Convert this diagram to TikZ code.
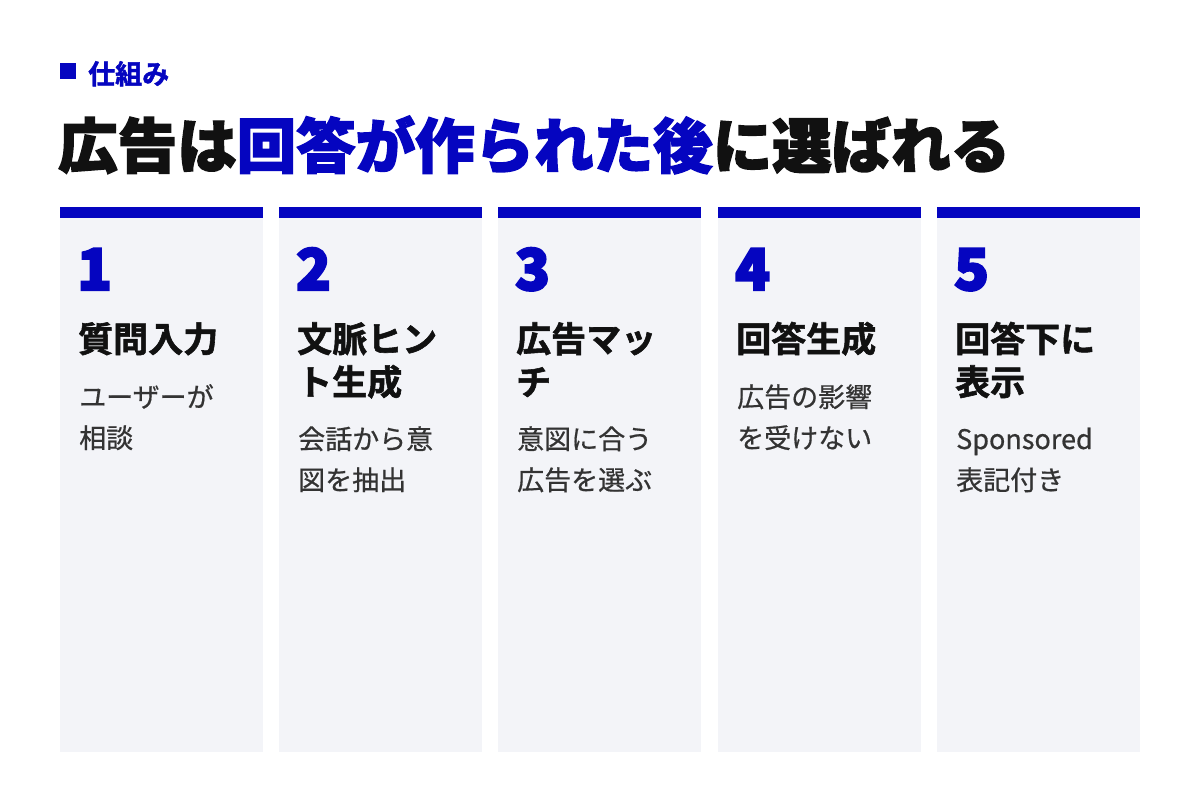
\documentclass[tikz,border=0pt]{standalone}
\usepackage{fontspec}
\newfontfamily\jp{Noto Sans CJK JP}[BoldFont=Noto Sans CJK JP Bold]
\newfontfamily\jpmed{Noto Sans CJK JP}[FakeBold=0.6]
\newfontfamily\jpheavy{Noto Sans CJK JP Bold}[FakeBold=1.6]
\newfontfamily\jpblack{Noto Sans CJK JP Black}[FakeBold=2.5]
\newfontfamily\jpnum{Noto Sans CJK JP Black}[FakeBold=4]
\definecolor{brand}{HTML}{0505C0}
\definecolor{cardbg}{HTML}{F3F4F8}
\definecolor{ink}{HTML}{111111}
\definecolor{body}{HTML}{333333}
\tikzset{
  card/.style={fill=cardbg},
  cardbar/.style={fill=brand},
  num/.style={anchor=base west, inner sep=0pt, text=brand, font=\jpnum\fontsize{57}{57}\selectfont},
  steptitle/.style={anchor=base west, inner sep=0pt, text=ink, align=left, font=\jpheavy\fontsize{35}{43}\selectfont},
  stepdesc/.style={anchor=base west, inner sep=0pt, text=body, align=left, font=\jpmed\fontsize{27}{41}\selectfont},
}
\begin{document}
\begin{tikzpicture}[x=1pt,y=-1pt]
\useasboundingbox[fill=white] (0,0) rectangle (1200,800);
% header
\fill[brand] (60,63) rectangle (76,79);
\node[anchor=base west, inner sep=0pt, text=brand, font=\jpheavy\fontsize{27}{27}\selectfont] (kicker) at (88,84) {仕組み};
\node[anchor=base west, inner sep=0pt, text=ink, font=\jpblack\fontsize{59.5}{59.5}\selectfont] (title) at (58,168)
  {広告は\textcolor{brand}{回答が作られた後}に選ばれる};
% cards
\foreach \i/\x in {1/60,2/279,3/498,4/718,5/937}{
  \fill[card] (\x,218) rectangle ++(203,534);
  \fill[cardbar] (\x,207) rectangle ++(203,11);
  \node[num] (n\i) at (\x+17,290) {\i};
}
% anchor base = baseline of the last line
\node[steptitle] (t1) at (78,352) {質問入力};
\node[stepdesc] (d1) at (79,448) {ユーザーが\\相談};
\node[steptitle] (t2) at (297,395) {文脈ヒン\\ト生成};
\node[stepdesc] (d2) at (298,490) {会話から意\\図を抽出};
\node[steptitle] (t3) at (516,395) {広告マッ\\チ};
\node[stepdesc] (d3) at (517,490) {意図に合う\\広告を選ぶ};
\node[steptitle] (t4) at (736,352) {回答生成};
\node[stepdesc] (d4) at (737,448) {広告の影響\\を受けない};
\node[steptitle] (t5) at (955,395) {回答下に\\表示};
\node[stepdesc] (d5) at (956,490) {Sponsored\\表記付き};
\end{tikzpicture}
\end{document}
